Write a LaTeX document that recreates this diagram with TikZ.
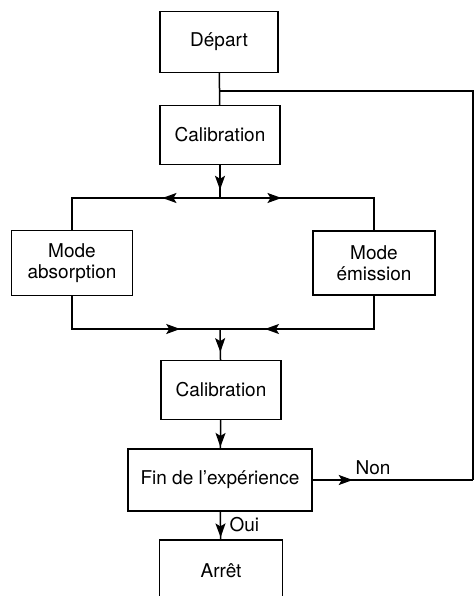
\documentclass[tikz,border=0pt]{standalone}
\usepackage{fontspec}
\setmainfont{TeX Gyre Heros}
\usetikzlibrary{arrows.meta,decorations.markings,positioning}
\tikzset{
    flowbox/.style={
        rectangle,
        draw,
        line width=1.3pt,
        align=center,
        inner sep=0pt,
        font=\fontsize{19}{21}\selectfont
    },
    link/.style={
        line width=1.5pt
    },
    midarrow/.style={
        link,
        postaction={decorate,
            decoration={markings,
                mark=at position #1 with {\arrow[line width=1.5pt]{Stealth[length=14pt,width=10pt,inset=3pt]}}}}
    },
    flowlabel/.style={
        font=\fontsize{19}{21}\selectfont
    }
}

\begin{document}
\begin{tikzpicture}[x=1pt,y=-1pt]
    \useasboundingbox (0,0) rectangle (475,596);

    % Boxes
    \node[flowbox, minimum width=118pt, minimum height=61pt] (depart) at (219,42) {Départ};
    \node[flowbox, minimum width=120pt, minimum height=59pt] (cal1) at (220,135) {Calibration};
    \node[flowbox, minimum width=121pt, minimum height=65pt] (absorp) at (72,263) {Mode\\absorption};
    \node[flowbox, minimum width=122pt, minimum height=64pt] (emiss) at (374,263) {Mode\\émission};
    \node[flowbox, minimum width=120pt, minimum height=59pt] (cal2) at (221,390) {Calibration};
    \node[flowbox, minimum width=184pt, minimum height=62pt] (fin) at (220,480) {Fin de l’expérience};
    \node[flowbox, minimum width=123pt, minimum height=62pt] (arret) at (221,571) {Arrêt};

    % Junction points
    \coordinate (loopin) at (220,91);
    \coordinate (fork) at (220,198);
    \coordinate (merge) at (220,329);
    \coordinate (loopout) at (473,480);

    % Main flow
    \draw[link] (depart) -- (cal1);
    \draw[midarrow=0.75] (cal1) -- (fork);
    \draw[midarrow=0.32] (fork) -| (absorp);
    \draw[midarrow=0.33] (fork) -| (emiss);
    \draw[midarrow=0.78] (absorp) |- (merge);
    \draw[midarrow=0.76] (emiss) |- (merge);
    \draw[midarrow=0.75] (merge) -- (cal2);
    \draw[midarrow=0.95] (cal2) -- (fin);
    \draw[midarrow=0.93] (fin) -- (arret);

    % Loop back
    \draw[midarrow=0.25] (fin) -- (loopout);
    \draw[link] (loopout) |- (loopin);

    \node[flowlabel, anchor=south west] (non) at (352,478) {Non};
    \node[flowlabel, anchor=west] (oui) at (226,525) {Oui};
\end{tikzpicture}
\end{document}
